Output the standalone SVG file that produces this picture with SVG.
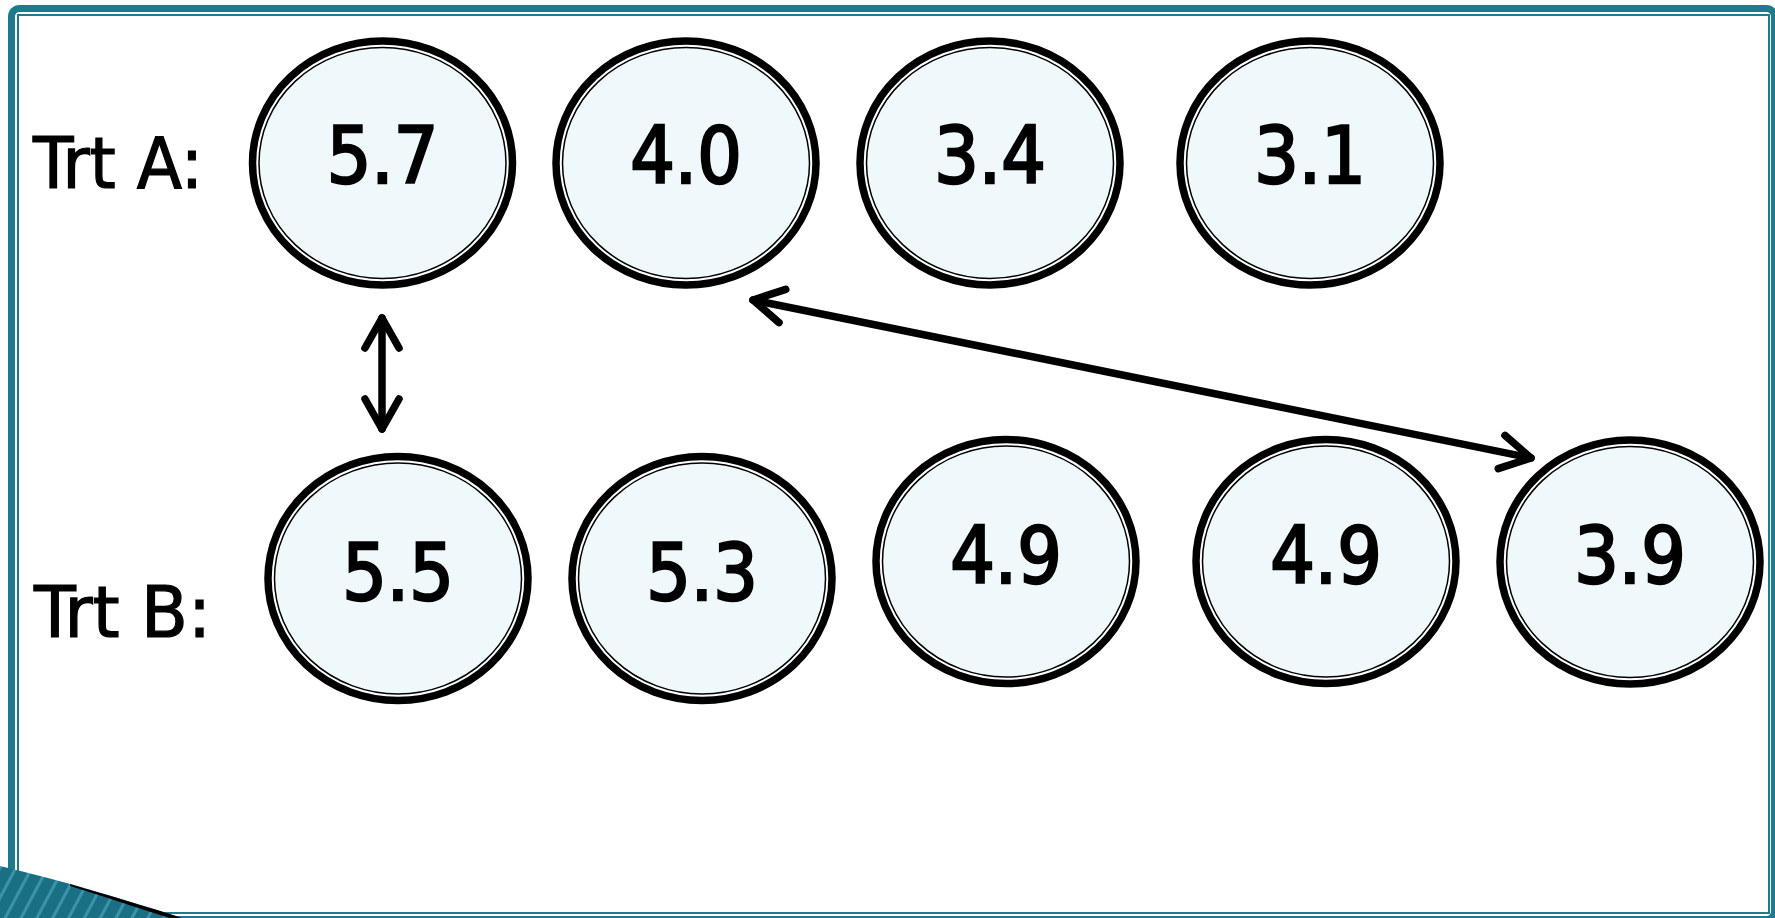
<svg xmlns="http://www.w3.org/2000/svg" width="1775" height="918" viewBox="0 0 1775 918">
  <style>
    .ring { fill: #ffffff; stroke: #000000; stroke-width: 7.5; }
    .core { fill: #eff9fc; stroke: #000000; stroke-width: 1.5; }
    .num { font-family: "DejaVu Sans Condensed", "DejaVu Sans", sans-serif; font-stretch: condensed; font-size: 78px; fill: #000000; stroke: #000000; stroke-width: 2.4; text-anchor: middle; }
    .lbl { font-family: "DejaVu Sans Condensed", "DejaVu Sans", sans-serif; font-stretch: condensed; font-size: 72px; fill: #000000; stroke: #000000; stroke-width: 1.2; }
    .link { fill: none; stroke: #000000; stroke-width: 7.5; stroke-linecap: round; }
  </style>
  <defs>
    <marker id="chevron" markerUnits="userSpaceOnUse" viewBox="-40 -25 50 50" markerWidth="50" markerHeight="50" refX="0" refY="0" orient="auto-start-reverse">
      <path d="M -30 -17 L 0 0 L -30 17" fill="none" stroke="#000000" stroke-width="7.5" stroke-linecap="round" stroke-linejoin="round"/>
    </marker>
    <pattern id="stripes" patternUnits="userSpaceOnUse" width="14" height="14" patternTransform="rotate(28)">
      <rect width="14" height="14" fill="#1b6f84"/>
      <rect width="3" height="14" fill="#3a93a8"/>
    </pattern>
  </defs>

  <rect width="1775" height="918" fill="#ffffff"/>

  <!-- frame -->
  <g id="frame">
    <rect x="11.5" y="8.5" width="1763" height="911" rx="8" fill="none" stroke="#1f7a8c" stroke-width="7"/>
    <rect x="18" y="15" width="1751" height="898" fill="none" stroke="#1f7a8c" stroke-width="2"/>
    <path d="M0,866 C 60,880 120,898 182,918 L0,918 Z" fill="url(#stripes)"/>
    <path d="M70,884 C 110,896 145,906 182,918 L170,918 C 135,907 105,897 70,886 Z" fill="#000000"/>
  </g>

  <!-- row labels -->
  <text id="label-a" class="lbl" x="33" y="188" textLength="170" lengthAdjust="spacingAndGlyphs">Trt A:</text>
  <text id="label-b" class="lbl" x="34" y="637" textLength="177" lengthAdjust="spacingAndGlyphs">Trt B:</text>

  <!-- treatment A -->
  <g id="a1" transform="translate(382.5,163)">
    <ellipse class="ring" rx="130" ry="122"/>
    <ellipse class="core" rx="123.5" ry="115.5"/>
    <text class="num" x="0" y="20">5.7</text>
  </g>
  <g id="a2" transform="translate(686,163)">
    <ellipse class="ring" rx="130" ry="122"/>
    <ellipse class="core" rx="123.5" ry="115.5"/>
    <text class="num" x="0" y="20">4.0</text>
  </g>
  <g id="a3" transform="translate(990,163)">
    <ellipse class="ring" rx="130" ry="122"/>
    <ellipse class="core" rx="123.5" ry="115.5"/>
    <text class="num" x="0" y="20">3.4</text>
  </g>
  <g id="a4" transform="translate(1310,163)">
    <ellipse class="ring" rx="130" ry="122"/>
    <ellipse class="core" rx="123.5" ry="115.5"/>
    <text class="num" x="0" y="20">3.1</text>
  </g>

  <!-- treatment B -->
  <g id="b1" transform="translate(398,578.5)">
    <ellipse class="ring" rx="130" ry="122"/>
    <ellipse class="core" rx="123.5" ry="115.5"/>
    <text class="num" x="0" y="21">5.5</text>
  </g>
  <g id="b2" transform="translate(702,578.5)">
    <ellipse class="ring" rx="130" ry="122"/>
    <ellipse class="core" rx="123.5" ry="115.5"/>
    <text class="num" x="0" y="21">5.3</text>
  </g>
  <g id="b3" transform="translate(1006,561.5)">
    <ellipse class="ring" rx="130" ry="122"/>
    <ellipse class="core" rx="123.5" ry="115.5"/>
    <text class="num" x="0" y="21">4.9</text>
  </g>
  <g id="b4" transform="translate(1326,561.5)">
    <ellipse class="ring" rx="130" ry="122"/>
    <ellipse class="core" rx="123.5" ry="115.5"/>
    <text class="num" x="0" y="21">4.9</text>
  </g>
  <g id="b5" transform="translate(1630,562)">
    <ellipse class="ring" rx="130" ry="122"/>
    <ellipse class="core" rx="123.5" ry="115.5"/>
    <text class="num" x="0" y="21">3.9</text>
  </g>

  <!-- connectors -->
  <g id="connectors">
    <line class="link" x1="382" y1="318" x2="382" y2="429" marker-start="url(#chevron)" marker-end="url(#chevron)"/>
    <line class="link" x1="753" y1="300" x2="1531" y2="458" marker-start="url(#chevron)" marker-end="url(#chevron)"/>
  </g>
</svg>
